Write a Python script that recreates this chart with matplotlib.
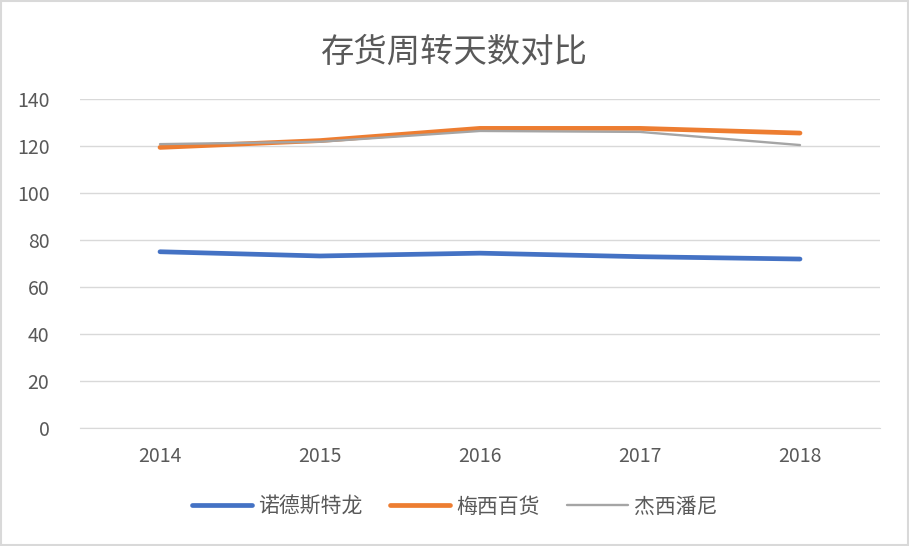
import matplotlib
matplotlib.use("Agg")
import matplotlib.pyplot as plt
from matplotlib.patches import Rectangle

plt.rcParams['font.family'] = ['Noto Sans CJK SC', 'DejaVu Sans']

years = ['2014', '2015', '2016', '2017', '2018']
nordstrom = [75, 73.2, 74.4, 72.9, 71.9]
macys = [119.4, 122.3, 127.5, 127.5, 125.5]
jcpenney = [120.8, 121.8, 126.4, 126.0, 120.4]
series_names = ['诺德斯特龙', '梅西百货', '杰西潘尼']
title = '存货周转天数对比'

fig = plt.figure(figsize=(9.09, 5.46), dpi=100)
ax = fig.add_axes([80/909, 118/546, 800/909, 329/546])

x = range(len(years))
ax.plot(x, nordstrom, color='#4472C4', lw=3.4, solid_capstyle='round', label=series_names[0], zorder=3)
ax.plot(x, macys, color='#ED7D31', lw=3.4, solid_capstyle='round', label=series_names[1], zorder=3)
ax.plot(x, jcpenney, color='#A5A5A5', lw=1.7, solid_capstyle='round', label=series_names[2], zorder=4)

ax.set_xlim(-0.5, len(years) - 0.5)
ax.set_ylim(0, 140)
ax.set_yticks(range(0, 141, 20))
ax.set_xticks(list(x))
ax.set_xticklabels(years)
ax.grid(axis='y', color='#D9D9D9', lw=1)
ax.set_axisbelow(True)
for s in ['top', 'right', 'left']:
    ax.spines[s].set_visible(False)
ax.spines['bottom'].set_color('#D9D9D9')
ax.tick_params(axis='both', length=0, colors='#595959', labelsize=14)
ax.tick_params(axis='x', pad=13)
ax.tick_params(axis='y', pad=22)

fig.text(0.5, 0.905, title, ha='center', va='center', fontsize=24, color='#595959')

leg = fig.legend(loc='center', bbox_to_anchor=(0.5, 0.072), ncol=3, frameon=False,
                 fontsize=15, handlelength=2.9, columnspacing=1.3, handletextpad=0.3,
                 labelcolor='#595959')

fig.patches.append(Rectangle((0.001, 0.001), 0.998, 0.997, transform=fig.transFigure,
                             fill=False, edgecolor='#D9D9D9', lw=1.5))

fig.savefig('out.png', dpi=100, facecolor='white')
